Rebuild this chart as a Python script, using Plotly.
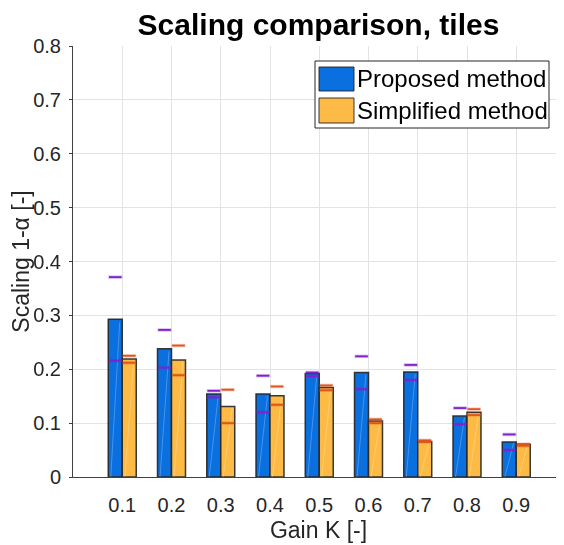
import plotly.graph_objects as go

# ---- data ----
gains = [0.1, 0.2, 0.3, 0.4, 0.5, 0.6, 0.7, 0.8, 0.9]
proposed = [0.293, 0.238, 0.154, 0.154, 0.192, 0.194, 0.195, 0.113, 0.065]
simplified = [0.219, 0.217, 0.131, 0.151, 0.166, 0.104, 0.066, 0.120, 0.061]
proposed_hi = [0.371, 0.273, 0.160, 0.188, 0.194, 0.224, 0.208, 0.128, 0.079]
proposed_lo = [0.216, 0.203, 0.148, 0.120, 0.187, 0.163, 0.180, 0.098, 0.050]
simplified_hi = [0.225, 0.244, 0.162, 0.168, 0.170, 0.107, 0.068, 0.126, 0.061]
simplified_lo = [0.212, 0.189, 0.100, 0.134, 0.161, 0.100, 0.065, 0.115, 0.058]
yticks = [0, 0.1, 0.2, 0.3, 0.4, 0.5, 0.6, 0.7, 0.8]
ytick_labels = ["0", "0.1", "0.2", "0.3", "0.4", "0.5", "0.6", "0.7", "0.8"]
xtick_labels = ["0.1", "0.2", "0.3", "0.4", "0.5", "0.6", "0.7", "0.8", "0.9"]
series_names = ["Proposed method", "Simplified method"]

# ---- style ----
# page body has an 8px default margin, so the figure is drawn 8px in from the corner
OFF = 8
W, H = 564 - OFF, 545 - OFF
ML, MR, MT, MB = 73 - OFF, 0, 46 - OFF, 545 - 477
FONT = "Liberation Sans, Arial, Helvetica, sans-serif"
BLUE = "#0a6fdf"
ORANGE = "#fdbb45"
PURPLE = "#7e22cc"
RED = "#df551c"
EDGE = "rgba(35,35,35,0.9)"
TXT = "#262626"
BW = 0.0284

fig = go.Figure()

fig.add_trace(go.Bar(x=gains, y=proposed, width=BW, offset=-BW,
                     marker=dict(color=BLUE, line=dict(color=EDGE, width=1.5)),
                     name=series_names[0], showlegend=False))
fig.add_trace(go.Bar(x=gains, y=simplified, width=BW, offset=0,
                     marker=dict(color=ORANGE, line=dict(color=EDGE, width=1.5)),
                     name=series_names[1], showlegend=False))

# faint diagonal streaks inside bars
def streaks(vals, left_off):
    xs, ys = [], []
    for g, v in zip(gains, vals):
        x0 = g + left_off
        xs += [x0 + 0.18 * BW, x0 + 0.82 * BW, None]
        ys += [0, v * 0.98, None]
    return xs, ys

for vals, off in [(proposed, -BW), (simplified, 0)]:
    sx, sy = streaks(vals, off)
    fig.add_trace(go.Scatter(x=sx, y=sy, mode="lines",
                             line=dict(color="rgba(255,255,255,0.25)", width=1),
                             hoverinfo="skip", showlegend=False))

# error dashes
for hi, lo, off, col in [(proposed_hi, proposed_lo, -BW / 2, PURPLE),
                         (simplified_hi, simplified_lo, BW / 2, RED)]:
    xs = [g + off for g in gains] * 2
    ys = hi + lo
    fig.add_trace(go.Scatter(x=xs, y=ys, mode="markers",
                             marker=dict(symbol="line-ew", size=10,
                                         line=dict(color=col, width=3.5)),
                             opacity=0.3, hoverinfo="skip", showlegend=False))
    fig.add_trace(go.Scatter(x=xs, y=ys, mode="markers",
                             marker=dict(symbol="line-ew", size=9,
                                         line=dict(color=col, width=1.8)),
                             showlegend=False))

# ---- custom legend (reference pixel layout -> paper coords) ----
pw = W - ML - MR
ph = H - MT - MB
def px(x):
    return (x - OFF - ML) / pw
def py(y):
    return (H - MB - (y - OFF)) / ph

shapes = [
    dict(type="rect", xref="paper", yref="paper", x0=px(315), x1=px(549),
         y0=py(128), y1=py(61), line=dict(color="#262626", width=1),
         fillcolor="white", layer="above"),
    dict(type="rect", xref="paper", yref="paper", x0=px(319), x1=px(354),
         y0=py(91), y1=py(67), line=dict(color=EDGE, width=1),
         fillcolor=BLUE, layer="above"),
    dict(type="rect", xref="paper", yref="paper", x0=px(319), x1=px(354),
         y0=py(123), y1=py(98), line=dict(color=EDGE, width=1),
         fillcolor=ORANGE, layer="above"),
]
annotations = [
    dict(xref="paper", yref="paper", x=px(355), y=py(79), text=series_names[0],
         showarrow=False, xanchor="left", yanchor="middle",
         font=dict(family=FONT, size=24, color="black")),
    dict(xref="paper", yref="paper", x=px(355), y=py(110.5), text=series_names[1],
         showarrow=False, xanchor="left", yanchor="middle",
         font=dict(family=FONT, size=24, color="black")),
]

fig.update_layout(
    width=W, height=H,
    margin=dict(l=ML, r=MR, t=MT, b=MB, pad=0, autoexpand=False),
    paper_bgcolor="white", plot_bgcolor="white",
    barmode="overlay",
    font=dict(family=FONT, color=TXT),
    title=dict(text="<b>Scaling comparison, tiles</b>", x=(ML + (W - MR)) / 2 / W,
               xanchor="center", y=1 - (24 - OFF) / H, yanchor="middle",
               font=dict(family=FONT, size=30, color="black")),
    shapes=shapes, annotations=annotations,
    xaxis=dict(range=[0, pw / 492.5], tickvals=gains, ticktext=xtick_labels,
               automargin=False,
               showgrid=True, gridcolor="#e3e3e3", gridwidth=1,
               showline=True, linecolor="#404040", linewidth=1,
               ticks="", ticklabelstandoff=10, zeroline=False,
               tickfont=dict(family=FONT, size=20, color=TXT),
               title=dict(text="Gain K [-]", standoff=6,
                          font=dict(family=FONT, size=23, color=TXT))),
    yaxis=dict(range=[0, 0.8], tickvals=yticks, ticktext=ytick_labels,
               automargin=False,
               showgrid=True, gridcolor="#e3e3e3", gridwidth=1,
               showline=True, linecolor="#404040", linewidth=1,
               ticks="outside", ticklen=3, tickcolor="#404040",
               ticklabelstandoff=4, zeroline=False,
               tickfont=dict(family=FONT, size=20, color=TXT),
               title=dict(text="Scaling 1-α [-]", standoff=4,
                          font=dict(family=FONT, size=23, color=TXT))),
)

fig.write_html("out.html")
